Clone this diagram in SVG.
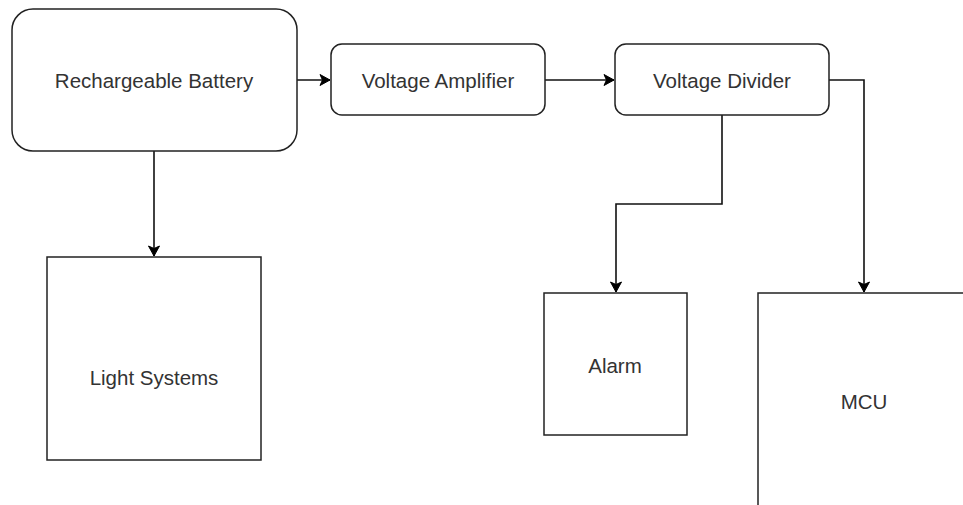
<svg xmlns="http://www.w3.org/2000/svg" width="963" height="505" viewBox="0 0 963 505">
<defs>
<marker id="arr" markerWidth="14" markerHeight="14" refX="11" refY="7" orient="auto" markerUnits="userSpaceOnUse">
<path d="M1,1.5 L11,7 L1,12.5 L3.5,7 Z" fill="#000" stroke="#000" stroke-width="1"/>
</marker>
</defs>
<style>
.box{fill:#fff;stroke:#222;stroke-width:1.5}
.lbl{font-family:"Liberation Sans",Arial,sans-serif;font-size:20.5px;fill:#333;text-anchor:middle;dominant-baseline:central}
.edge{fill:none;stroke:#111;stroke-width:1.6;marker-end:url(#arr)}
</style>
<rect width="963" height="505" fill="#fff"/>
<g id="connectors">
<path class="edge" d="M297,80 L330,80"/>
<path class="edge" d="M545,80 L614,80"/>
<path class="edge" d="M154,151 L154,256"/>
<path class="edge" d="M722,115 L722,204 L616,204 L616,292"/>
<path class="edge" d="M829,80 L864,80 L864,292"/>
</g>
<g id="battery">
<rect class="box" x="12" y="9" width="285" height="142" rx="21"/>
<text class="lbl" x="154" y="80">Rechargeable Battery</text>
</g>
<g id="amplifier">
<rect class="box" x="331" y="44" width="214" height="71" rx="11"/>
<text class="lbl" x="438" y="80">Voltage Amplifier</text>
</g>
<g id="divider">
<rect class="box" x="615" y="44" width="214" height="71" rx="11"/>
<text class="lbl" x="722" y="80">Voltage Divider</text>
</g>
<g id="light">
<rect class="box" x="47" y="257" width="214" height="203"/>
<text class="lbl" x="154" y="377">Light Systems</text>
</g>
<g id="alarm">
<rect class="box" x="544" y="293" width="143" height="142"/>
<text class="lbl" x="615" y="365">Alarm</text>
</g>
<g id="mcu">
<rect class="box" x="758" y="293" width="214" height="220"/>
<text class="lbl" x="864" y="401">MCU</text>
</g>
</svg>
